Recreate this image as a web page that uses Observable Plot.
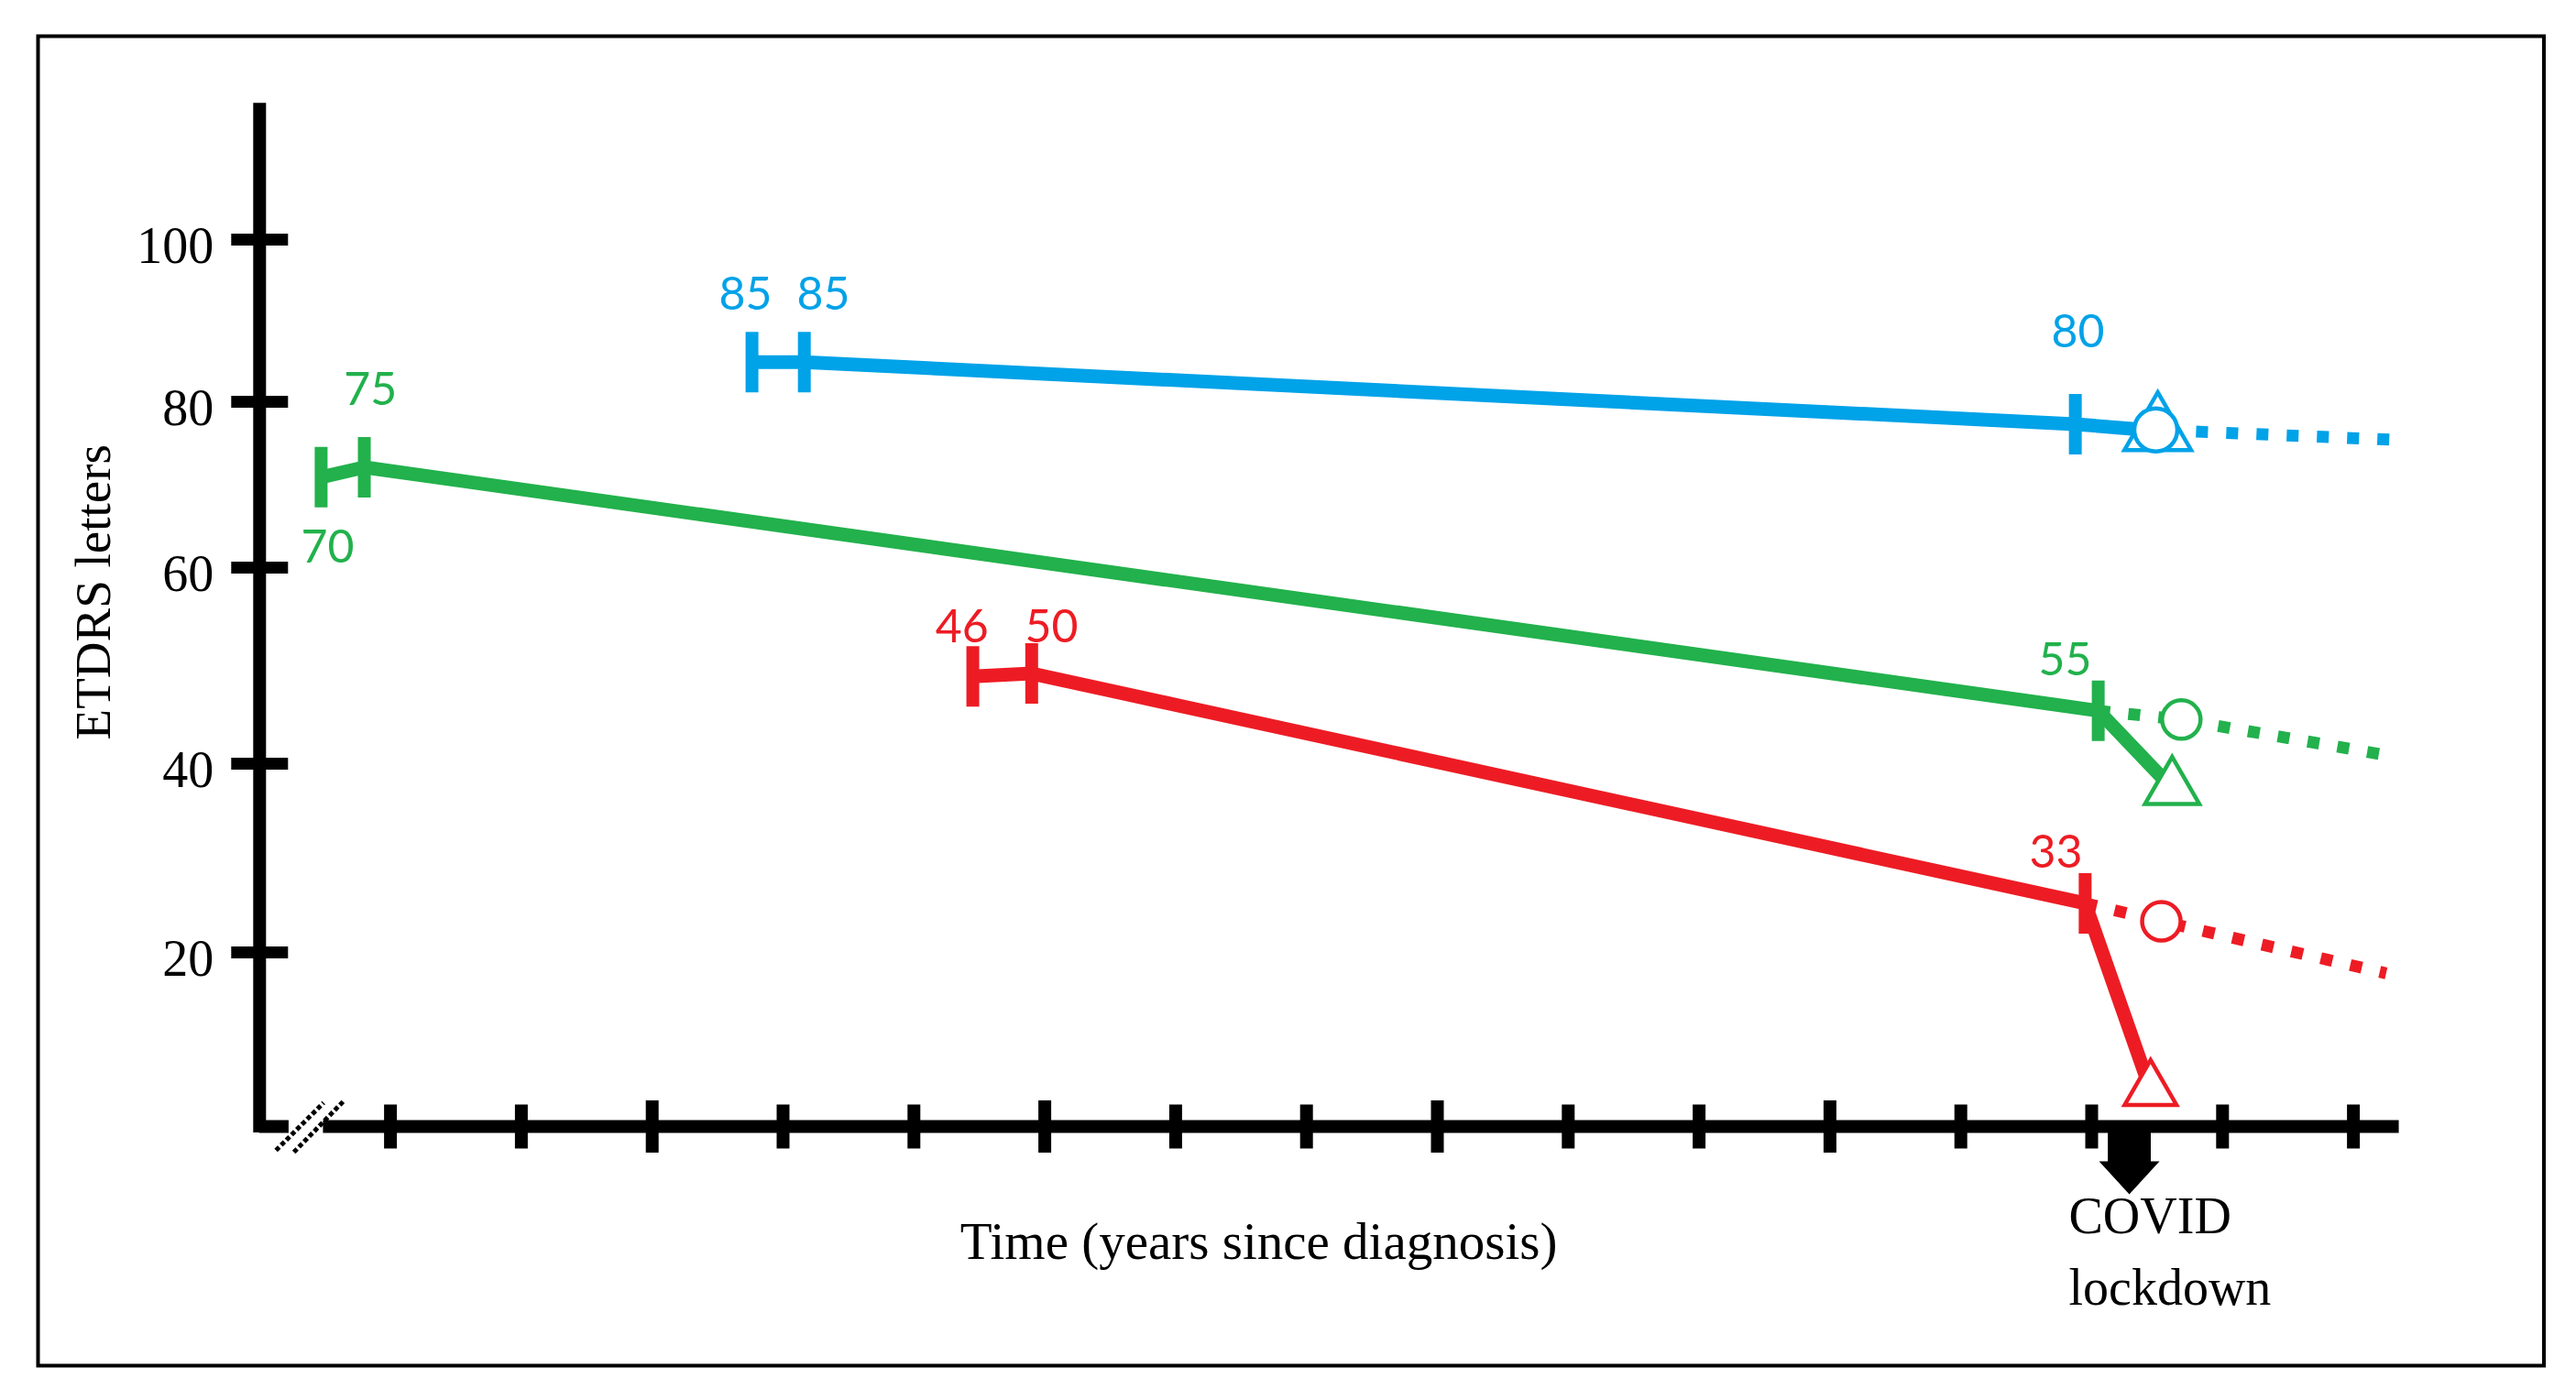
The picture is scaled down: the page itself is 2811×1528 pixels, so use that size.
<!DOCTYPE html>
<html>
<head>
<meta charset="utf-8">
<script src="https://cdn.jsdelivr.net/npm/d3@7"></script>
<script src="https://cdn.jsdelivr.net/npm/@observablehq/plot@0.6"></script>
<style>
  html, body { margin: 0; padding: 0; background: #ffffff; }
  #chart svg { display: block; }
</style>
</head>
<body>
<div id="chart"></div>
<script>
// ---------------- data (months since diagnosis, ETDRS letters on the drawn axis) ----------------
const seriesKeys = ["blue", "green", "red"];
const seriesColors = ["#00A2E8", "#22B14C", "#ED1C24"];

// clinic visits before lockdown (position of each vertical visit mark)
const blueVisitMonths = [15.05, 16.65, 55.5];
const blueVisitLetters = [84.9, 84.9, 77.3];
const greenVisitMonths = [1.88, 3.2, 56.2];
const greenVisitLetters = [70.9, 72.1, 45.4];
const redVisitMonths = [21.8, 23.6, 55.8];
const redVisitLetters = [48.9, 49.2, 25.2];

// value labels written next to the visits
const blueLabelTexts = ["85", "85", "80"];
const blueLabelMonths = [14.85, 17.23, 55.58];
const blueLabelLetters = [93.2, 93.2, 88.5];
const greenLabelTexts = ["70", "75", "55"];
const greenLabelMonths = [2.08, 3.39, 55.19];
const greenLabelLetters = [62.4, 81.4, 50.5];
const redLabelTexts = ["46", "50", "33"];
const redLabelMonths = [21.47, 24.21, 54.91];
const redLabelLetters = [53.9, 53.9, 30.5];

// after lockdown: observed (triangle), projected (circle), end of projected trend (dotted)
const observedMonths = [58.02, 58.46, 57.8];
const observedLetters = [76.5, 37.4, 4.2];
const projectedMonths = [57.96, 58.74, 58.13];
const projectedLetters = [76.6, 44.5, 23.3];
const trendEndMonths = [65.3, 65.3, 65.0];
const trendEndLetters = [75.4, 40.7, 17.6];

// axes
const yTickValues = [20, 40, 60, 80, 100];
const xMajorTicks = [12, 24, 36, 48];
const xMinorTicks = [4, 8, 16, 20, 28, 32, 40, 44, 52, 56, 60, 64];
const yAxisExtent = [-0.74, 116.8];
const xAxisSegments = [[0, 0.9], [1.95, 65.4]];
const axisBreakMonth = 1.52;
const lockdownMonth = 57.15;

// texts
const yTitle = "ETDRS letters";
const yTitlePos = [-5.06, 57.5];
const xTitle = "Time (years since diagnosis)";
const xTitlePos = [30.54, -13.3];
const covidLines = ["COVID", "lockdown"];
const covidMonth = 55.3;
const covidLetters = [-10.4, -18.6];

// ---------------- build tables ----------------
const visitMonths = [blueVisitMonths, greenVisitMonths, redVisitMonths];
const visitLetters = [blueVisitLetters, greenVisitLetters, redVisitLetters];
const labelTexts = [blueLabelTexts, greenLabelTexts, redLabelTexts];
const labelMonths = [blueLabelMonths, greenLabelMonths, redLabelMonths];
const labelLetters = [blueLabelLetters, greenLabelLetters, redLabelLetters];

const visits = [], solid = [], dotted = [], labels = [], observed = [], projected = [];
seriesKeys.forEach((key, s) => {
  visitMonths[s].forEach((m, i) => {
    const row = {series: key, month: m, letters: visitLetters[s][i]};
    visits.push(row);
    solid.push(row);
  });
  solid.push({series: key, month: observedMonths[s], letters: observedLetters[s]});
  const n = visitMonths[s].length - 1;
  dotted.push({series: key, month: visitMonths[s][n], letters: visitLetters[s][n]});
  dotted.push({series: key, month: projectedMonths[s], letters: projectedLetters[s]});
  dotted.push({series: key, month: trendEndMonths[s], letters: trendEndLetters[s]});
  labelTexts[s].forEach((t, i) => labels.push({series: key, text: t, month: labelMonths[s][i], letters: labelLetters[s][i]}));
  observed.push({series: key, month: observedMonths[s], letters: observedLetters[s]});
  projected.push({series: key, month: projectedMonths[s], letters: projectedLetters[s]});
});
const colorOf = k => seriesColors[seriesKeys.indexOf(k)];

// ---------------- custom symbols ----------------
const vbar = {draw(ctx, size) { const r = Math.sqrt(size / Math.PI); ctx.moveTo(0, -r); ctx.lineTo(0, r); }};
const hbar = {draw(ctx, size) { const r = Math.sqrt(size / Math.PI); ctx.moveTo(-r, 0); ctx.lineTo(r, 0); }};
const downArrow = {draw(ctx, size) {
  const s = Math.sqrt(size / Math.PI);
  ctx.moveTo(-0.71 * s, 0); ctx.lineTo(0.71 * s, 0); ctx.lineTo(0.71 * s, 1.15 * s);
  ctx.lineTo(s, 1.15 * s); ctx.lineTo(0, 2.24 * s); ctx.lineTo(-s, 1.15 * s);
  ctx.lineTo(-0.71 * s, 1.15 * s); ctx.closePath();
}};
const breakMark = {draw(ctx, size) {
  const s = Math.sqrt(size / Math.PI), o = 0.4 * s;
  ctx.moveTo(-o - s, s); ctx.lineTo(-o + s, -s);
  ctx.moveTo(o - 1.05 * s, 1.08 * s); ctx.lineTo(o + 1.05 * s, -1.08 * s);
}};

const triangleR = {blue: 27, green: 22, red: 21};
const circleR = {blue: 23.5, green: 21, red: 21};

const marks = [
  Plot.frame({stroke: "#000", strokeWidth: 4}),
  // y axis line
  Plot.ruleX([0], {x: d => d, y1: () => yAxisExtent[0], y2: () => yAxisExtent[1], stroke: "#000", strokeWidth: 14}),
  // x axis line with break
  Plot.ruleY(xAxisSegments, {y: () => 0, x1: d => d[0], x2: d => d[1], stroke: "#000", strokeWidth: 14}),
  Plot.dot([axisBreakMonth], {x: d => d, y: () => 0, symbol: breakMark, r: 26, fill: "none", stroke: "#000", strokeWidth: 5, strokeDasharray: "5,3"}),
  // y ticks
  Plot.dot(yTickValues, {x: () => 0, y: d => d, symbol: hbar, r: 31, fill: "none", stroke: "#000", strokeWidth: 13}),
  // x ticks
  Plot.dot(xMinorTicks, {x: d => d, y: () => 0, symbol: vbar, r: 24, fill: "none", stroke: "#000", strokeWidth: 14}),
  Plot.dot(xMajorTicks, {x: d => d, y: () => 0, symbol: vbar, r: 28.5, fill: "none", stroke: "#000", strokeWidth: 14}),
  // lockdown arrow
  Plot.dot([lockdownMonth], {x: d => d, y: () => 0, symbol: downArrow, r: 33, fill: "#000", stroke: "none"}),
  // y tick labels
  Plot.text(yTickValues, {x: () => 0, y: d => d, text: d => String(d), textAnchor: "end", dx: -50, dy: 8,
    fontSize: 56, fontFamily: "Liberation Serif, serif", fill: "#000"}),
  // titles
  Plot.text([yTitle], {x: () => yTitlePos[0], y: () => yTitlePos[1], text: d => d, rotate: -90,
    fontSize: 55, fontFamily: "Liberation Serif, serif", fill: "#000"}),
  Plot.text([xTitle], {x: () => xTitlePos[0], y: () => xTitlePos[1], text: d => d,
    fontSize: 57, fontFamily: "Liberation Serif, serif", fill: "#000"}),
  Plot.text(covidLines, {x: () => covidMonth, y: (d, i) => covidLetters[i], text: d => d, textAnchor: "start",
    fontSize: 56, fontFamily: "Liberation Serif, serif", fill: "#000"})
];

seriesKeys.forEach(key => {
  const c = colorOf(key);
  marks.push(
    Plot.line(dotted.filter(d => d.series === key), {x: "month", y: "letters", stroke: c, strokeWidth: 13,
      strokeDasharray: "13,20", strokeLinecap: "butt", strokeLinejoin: "miter"}),
    Plot.line(solid.filter(d => d.series === key), {x: "month", y: "letters", stroke: c, strokeWidth: 15,
      strokeLinecap: "butt", strokeLinejoin: "round"}),
    Plot.dot(visits.filter(d => d.series === key), {x: "month", y: "letters", symbol: vbar, r: 33,
      fill: "none", stroke: c, strokeWidth: 14}),
    Plot.dot(observed.filter(d => d.series === key), {x: "month", y: "letters", symbol: "triangle", r: triangleR[key],
      fill: "#fff", stroke: c, strokeWidth: 4.5}),
    Plot.dot(projected.filter(d => d.series === key), {x: "month", y: "letters", symbol: "circle", r: circleR[key],
      fill: "#fff", stroke: c, strokeWidth: 4.5}),
    Plot.text(labels.filter(d => d.series === key), {x: "month", y: "letters", text: "text", fill: c,
      fontSize: 50, fontFamily: "Lato, 'Open Sans', sans-serif"})
  );
});

const chart = Plot.plot({
  width: 2811,
  height: 1528,
  marginTop: 39,
  marginRight: 35.5,
  marginBottom: 38,
  marginLeft: 41,
  x: {type: "linear", axis: null, domain: [0, 66], range: [282.8, 2639]},
  y: {type: "linear", axis: null, domain: [0, 20, 40, 60, 80, 100], range: [1229, 1039, 833, 619, 438, 261]},
  style: {background: "#ffffff", overflow: "visible"},
  marks
});
document.getElementById("chart").appendChild(chart);
</script>
</body>
</html>
